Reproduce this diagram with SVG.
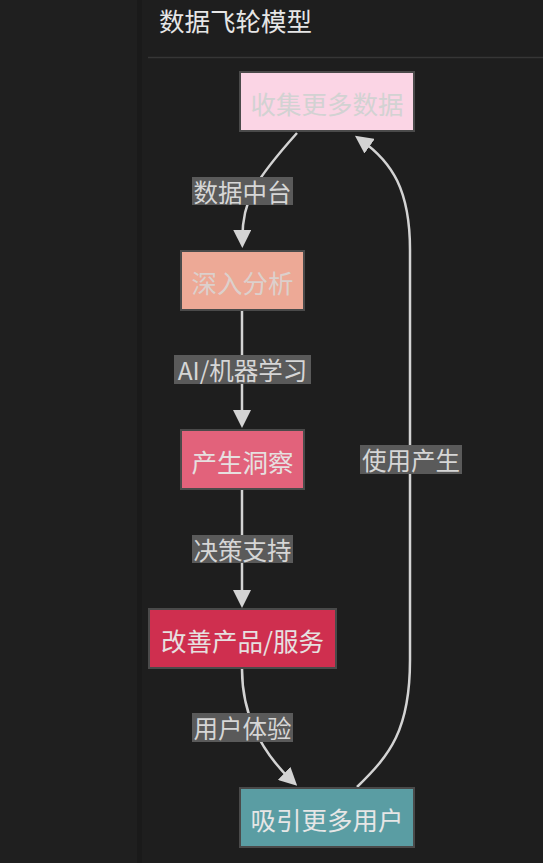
<svg xmlns="http://www.w3.org/2000/svg" width="543" height="863" viewBox="0 0 543 863">
<style>
  .bg { fill: #1e1e1e; }
  .title { font-family: "Noto Sans CJK SC", "Noto Sans", sans-serif; font-size: 25.5px; fill: #e6e6e6; }
  .node rect { stroke: #4a4a4a; stroke-width: 2; }
  .node text { font-family: "Noto Sans CJK SC", "Noto Sans", sans-serif; font-size: 25.5px; text-anchor: middle; dominant-baseline: central; }
  .edge { fill: none; stroke: #d3d3d3; stroke-width: 2.5; }
  .lbl rect { fill: #5a5a5a; }
  .lbl text { font-family: "Noto Sans CJK SC", "Noto Sans", sans-serif; font-size: 24.5px; fill: #d6d6d6; text-anchor: middle; dominant-baseline: central; }
</style>
<defs>
  <marker id="arr" viewBox="0 0 18 18" refX="10" refY="9" markerWidth="18" markerHeight="18" markerUnits="userSpaceOnUse" orient="auto">
    <path d="M0,0 L18,9 L0,18 z" fill="#d3d3d3"/>
  </marker>
</defs>
<rect class="bg" x="0" y="0" width="543" height="863"/>
<rect x="0" y="0" width="137" height="863" fill="#1f1f1f"/>
<rect x="137" y="0" width="5" height="863" fill="#1a1a1a"/>
<text class="title" x="159" y="31">数据飞轮模型</text>
<line x1="148" y1="57.5" x2="543" y2="57.5" stroke="#363636" stroke-width="1.5"/>

<g id="connectors">
  <path class="edge" d="M297,133 C255,180 242,200 242.3,240" marker-end="url(#arr)"/>
  <path class="edge" d="M242,311 L242,420" marker-end="url(#arr)"/>
  <path class="edge" d="M242,490 L242,600" marker-end="url(#arr)"/>
  <path class="edge" d="M242,669 C242,720 265,755 291.4,780.3" marker-end="url(#arr)"/>
  <path class="edge" d="M357,787 C390,755 410,730 410,660 L410,250 C410,190 392,162 361.5,140.4" marker-end="url(#arr)"/>
  <g class="lbl"><rect x="192" y="177" width="101" height="28"/><text x="242.5" y="191">数据中台</text></g>
  <g class="lbl"><rect x="174" y="355" width="137" height="29"/><text x="242.5" y="369.5">AI/机器学习</text></g>
  <g class="lbl"><rect x="192" y="535" width="101" height="28"/><text x="242.5" y="549">决策支持</text></g>
  <g class="lbl"><rect x="360" y="445" width="102" height="29"/><text x="411" y="459.5">使用产生</text></g>
  <g class="lbl"><rect x="192" y="713" width="101" height="29"/><text x="242.5" y="727.5">用户体验</text></g>
</g>

<g id="n1" class="node"><rect x="240" y="72" width="174" height="59" fill="#fbd5e5"/><text x="327" y="102" fill="#d2d2d2">收集更多数据</text></g>
<g id="n2" class="node"><rect x="181" y="251" width="123" height="59" fill="#eda996"/><text x="242.5" y="281" fill="#dcd0cc">深入分析</text></g>
<g id="n3" class="node"><rect x="181" y="430" width="123" height="59" fill="#e2627b"/><text x="242.5" y="460" fill="#e6e0e0">产生洞察</text></g>
<g id="n4" class="node"><rect x="149" y="609" width="187" height="59" fill="#cf2f4f"/><text x="242.5" y="639" fill="#e6e0e0">改善产品/服务</text></g>
<g id="n5" class="node"><rect x="240" y="788" width="174" height="59" fill="#5a9da3"/><text x="327" y="818" fill="#e6e6e6">吸引更多用户</text></g>
</svg>
